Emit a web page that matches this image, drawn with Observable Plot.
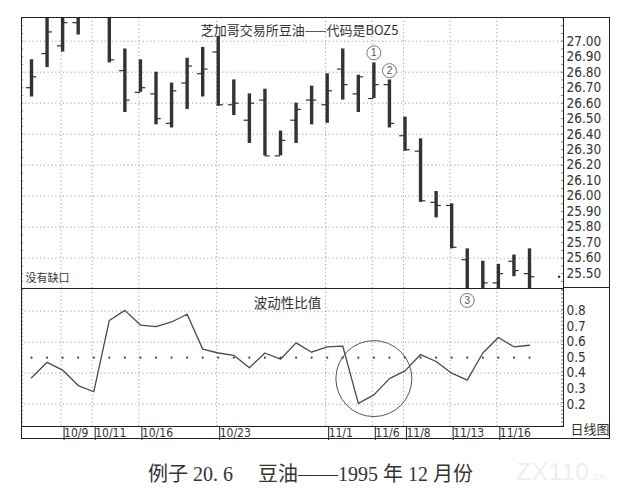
<!DOCTYPE html>
<html>
<head>
<meta charset="utf-8">
<script src="https://cdn.jsdelivr.net/npm/d3@7"></script>
<script src="https://cdn.jsdelivr.net/npm/@observablehq/plot@0.6"></script>
<style>
  body { margin: 0; background: #fff; }
  #wrap { position: relative; width: 638px; height: 496px; overflow: hidden; background: #fff;
          font-family: "Noto Sans CJK SC", "Noto Sans", sans-serif; }
  #wrap svg { position: absolute; left: 0; overflow: visible; }
  #box { position: absolute; left: 21px; top: 17px; width: 589px; height: 422px; border: 1px solid #222; box-sizing: border-box; }
  #div1 { position: absolute; left: 563px; top: 287px; width: 47px; height: 1px; background: #222; }
  #caption { position: absolute; left: 148px; top: 458px; text-align: left;
             font-family: "Liberation Serif", "DejaVu Serif", "Noto Sans CJK SC", serif; font-size: 20px; color: #333; white-space: pre; }
  #wm { position: absolute; left: 516px; top: 458px; font-family: "Liberation Sans", sans-serif; font-size: 24px;
        color: #eeeeee; letter-spacing: 1px; }
</style>
</head>
<body>
<div id="wrap">
  <div id="box"></div>
  <div id="div1"></div>
  <div id="caption">例子 20. 6　 豆油——1995 年 12 月份</div>
  <div id="wm">ZX110<span style="font-size:10px">.cn</span></div>
</div>
<script>
// ---------- data (daily bars, 1995-10-05 .. 1995-11-20) ----------
const open  = [26.70, 26.92, 26.97, 27.12, 27.25, 27.28, 26.81, 26.67, 26.66, 26.47, 26.73, 26.79, 26.93, 26.59, 26.49, 26.62, 26.26,
               26.49, 26.62, 26.59, 26.82, 26.66, 26.63, 26.72, 26.39, 26.29, 25.96, 25.94, 25.59, 25.38, 25.44, 25.58, 25.50];
const high  = [26.88, 27.20, 27.25, 27.25, 27.40, 27.30, 26.95, 26.88, 26.80, 26.73, 26.89, 26.96, 27.03, 26.75, 26.66, 26.69, 26.42,
               26.60, 26.71, 26.79, 26.95, 26.78, 26.86, 26.75, 26.51, 26.37, 26.03, 25.95, 25.66, 25.58, 25.56, 25.62, 25.66];
const low   = [26.64, 26.83, 26.93, 27.04, 27.18, 26.86, 26.54, 26.67, 26.46, 26.44, 26.56, 26.64, 26.58, 26.52, 26.34, 26.26, 26.26,
               26.34, 26.46, 26.47, 26.62, 26.54, 26.63, 26.44, 26.29, 25.96, 25.86, 25.66, 25.35, 25.35, 25.38, 25.48, 25.38];
const close = [26.77, 27.06, 27.12, 27.18, 27.30, 26.88, 26.62, 26.70, 26.50, 26.68, 26.84, 26.82, 26.59, 26.60, 26.60, 26.26, 26.36,
               26.56, 26.62, 26.68, 26.72, 26.77, 26.72, 26.47, 26.30, 25.97, 25.94, 25.67, 25.38, 25.44, 25.50, 25.52, 25.48];
const ratio = [0.37, 0.47, 0.42, 0.32, 0.28, 0.74, 0.805, 0.71, 0.70, 0.73, 0.78, 0.555, 0.53, 0.515, 0.435, 0.53, 0.49,
               0.595, 0.535, 0.57, 0.575, 0.205, 0.26, 0.365, 0.415, 0.52, 0.475, 0.40, 0.355, 0.53, 0.63, 0.57, 0.58];

// x-axis date labels (bar index where each labelled day starts)
const labelIdx = [2, 4, 7, 12, 19, 22, 24, 27, 30];
const labels   = ["10/9", "10/11", "10/16", "10/23", "11/1", "11/6", "11/8", "11/13", "11/16"];

// axis ticks / grid
const priceTicks = [27.00, 26.90, 26.80, 26.70, 26.60, 26.50, 26.40, 26.30, 26.20, 26.10, 26.00, 25.90, 25.80, 25.70, 25.60, 25.50];
const priceGrid  = [27.0, 26.8, 26.6, 26.4, 26.2, 26.0, 25.8, 25.6];
const ratioTicks = [0.8, 0.7, 0.6, 0.5, 0.4, 0.3, 0.2];
const ratioGrid  = [0.8, 0.6, 0.4, 0.2];
const ratioRef   = 0.5;

// annotations
const markIdx   = [22, 23];
const markVal   = [26.925, 26.81];
const markText  = ["1", "2"];
const mark3     = [{i: 28, v: 0.869, t: "3"}];
const circleAt  = [{i: 22, v: 0.365}];
const lastDot   = [{i: 33.9, v: 25.48}];

const title1 = "芝加哥交易所豆油——代码是BOZ5";
const note1  = "没有缺口";
const title2 = "波动性比值";
const xUnit  = "日线图";

// ---------- chart ----------
const idx = d3.range(open.length);
const xDomain = [-0.643, 34.185];
const sep = labelIdx.map(i => i - 0.1);
const numFont = "'Liberation Sans Narrow', 'DejaVu Sans Condensed', 'Roboto Condensed', 'Liberation Sans', sans-serif";
const gridStyle = {stroke: "#8a8a8a", strokeWidth: 0.8, strokeDasharray: "1.2,2.6"};
const barColor = "#333";

const topMinor = d3.range(25.40, 27.151, 0.05);
const botMinor = d3.range(0.06, 0.946, 0.025);

const topChart = Plot.plot({
  width: 638, height: 288,
  marginLeft: 21, marginRight: 75, marginTop: 17, marginBottom: 0,
  style: {background: "transparent", color: "#222"},
  x: {domain: xDomain, axis: null},
  y: {domain: [25.404, 27.153], axis: null},
  marks: [
    Plot.ruleY(priceGrid, gridStyle),
    Plot.ruleX(sep, gridStyle),
    Plot.ruleX(idx, {x: d => d, y1: i => low[i], y2: i => high[i], stroke: barColor, strokeWidth: 3.4, clip: true}),
    Plot.ruleY(idx, {x1: i => i - 0.34, x2: i => i, y: i => open[i], stroke: barColor, strokeWidth: 1.2, clip: true}),
    Plot.ruleY(idx, {x1: i => i, x2: i => i + 0.34, y: i => close[i], stroke: barColor, strokeWidth: 1.2, clip: true}),
    Plot.ruleY(topMinor, {x1: xDomain[0], x2: xDomain[0] + 0.13, stroke: "#555", strokeWidth: 0.7}),
    Plot.ruleY(topMinor, {x1: xDomain[1] - 0.13, x2: xDomain[1], stroke: "#555", strokeWidth: 0.7}),
    Plot.dot(lastDot, {x: "i", y: "v", r: 1.2, fill: "#333"}),
    Plot.dot(markIdx, {x: d => d, y: (d, k) => markVal[k], r: 7, stroke: "#666", strokeWidth: 0.9, fill: "white"}),
    Plot.text(markIdx, {x: d => d, y: (d, k) => markVal[k], text: (d, k) => markText[k], fontSize: 10, fill: "#555", fontFamily: "Liberation Sans, sans-serif"}),
    Plot.axisY({anchor: "right", label: null, ticks: priceTicks, tickFormat: d => d.toFixed(2), tickSize: 0, tickPadding: 3,
                fontSize: 13.5, fontFamily: numFont, fill: "#333"}),
    Plot.text([title1], {frameAnchor: "top", dx: 7, dy: 8, fontSize: 13, fill: "#333", fontFamily: "Noto Sans CJK SC"}),
    Plot.text([note1], {frameAnchor: "bottom-left", textAnchor: "start", dx: 4, dy: -7, fontSize: 11, fill: "#333", fontFamily: "Noto Sans CJK SC"}),
    Plot.frame({stroke: "#222", strokeWidth: 1})
  ]
});
topChart.style.top = "0px";

const botChart = Plot.plot({
  width: 638, height: 153,
  marginLeft: 21, marginRight: 75, marginTop: 0, marginBottom: 15,
  style: {background: "transparent", color: "#222"},
  x: {domain: xDomain, axis: null},
  y: {domain: [0.056, 0.946], axis: null},
  marks: [
    Plot.ruleY(ratioGrid, gridStyle),
    Plot.ruleX(sep, gridStyle),
    Plot.dot(idx, {x: d => d, y: ratioRef, r: 1.1, fill: "#444"}),
    Plot.ruleY(botMinor, {x1: xDomain[0], x2: xDomain[0] + 0.13, stroke: "#555", strokeWidth: 0.7}),
    Plot.ruleY(botMinor, {x1: xDomain[1] - 0.13, x2: xDomain[1], stroke: "#555", strokeWidth: 0.7}),
    Plot.line(idx, {x: d => d, y: i => ratio[i], stroke: "#4a4a4a", strokeWidth: 1.3}),
    Plot.dot(circleAt, {x: "i", y: "v", r: 38, stroke: "#555", strokeWidth: 1, fill: "none"}),
    Plot.dot(mark3, {x: "i", y: "v", r: 7, stroke: "#666", strokeWidth: 0.9, fill: "white"}),
    Plot.text(mark3, {x: "i", y: "v", text: "t", fontSize: 10, fill: "#555", fontFamily: "Liberation Sans, sans-serif"}),
    Plot.axisY({anchor: "right", label: null, ticks: ratioTicks, tickFormat: d => d.toFixed(1), tickSize: 0, tickPadding: 3,
                fontSize: 13.5, fontFamily: numFont, fill: "#333"}),
    Plot.axisX({anchor: "bottom", label: null, ticks: sep, tickSize: 14, tickPadding: -12, textAnchor: "start", dx: 3,
                tickFormat: d => labels[sep.indexOf(d)], fontSize: 12, fontFamily: numFont, fill: "#333", stroke: "#222"}),
    Plot.text([title2], {frameAnchor: "top", dx: -5, dy: 10, fontSize: 13.5, fill: "#333", fontFamily: "Noto Sans CJK SC"}),
    Plot.text([xUnit], {frameAnchor: "bottom-right", textAnchor: "end", dx: 46, dy: 7.5, fontSize: 13, fill: "#333", fontFamily: "Noto Sans CJK SC"}),
    Plot.frame({stroke: "#222", strokeWidth: 1})
  ]
});
botChart.style.top = "288px";

const wrap = document.getElementById("wrap");
wrap.appendChild(topChart);
wrap.appendChild(botChart);
</script>
</body>
</html>
